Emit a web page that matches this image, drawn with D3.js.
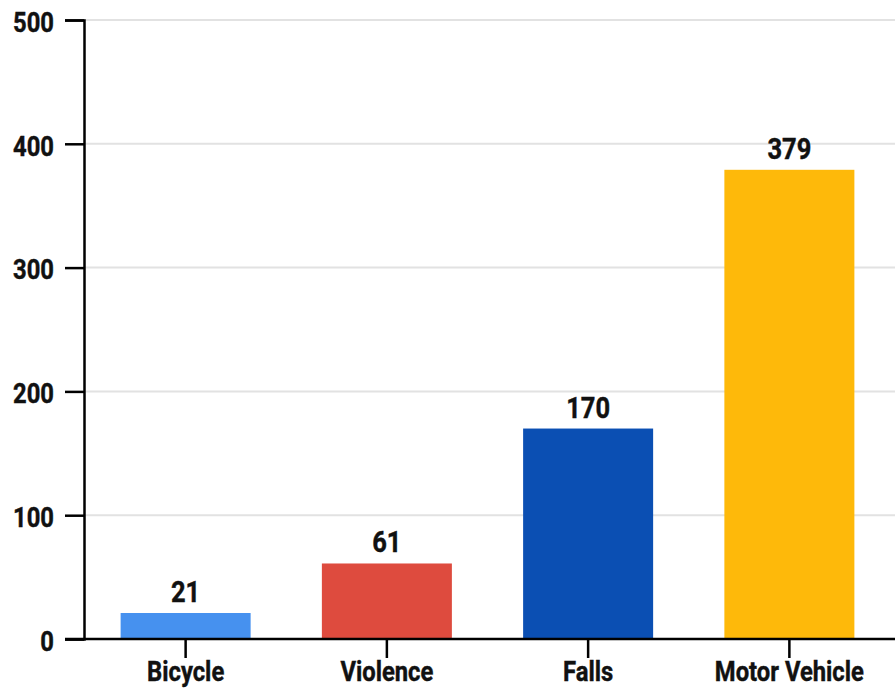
<!DOCTYPE html>
<html>
<head>
<meta charset="utf-8">
<script src="https://cdn.jsdelivr.net/npm/d3@7"></script>
<style>
  html, body { margin: 0; padding: 0; background: #fff; }
  svg { display: block; }
  text { font-family: "Roboto", "DejaVu Sans", sans-serif; font-weight: 700; fill: #111; stroke: #111; stroke-width: 0.45px; }
</style>
</head>
<body>
<svg id="chart" width="895" height="688"></svg>
<script>
// Injury causes and counts
const categories = ["Bicycle", "Violence", "Falls", "Motor Vehicle"];
const counts = [21, 61, 170, 379];
const barColors = ["#4691ef", "#de4b3e", "#0b4fb3", "#feb90a"];
const yTicks = [0, 100, 200, 300, 400, 500];

const svg = d3.select("#chart");
const W = 895, H = 688;
const m = { left: 84, right: 890, top: 20, bottom: 639 };
const FS = 28;       // axis label font size
const VFS = 30;      // value label font size
const SQ = 0.85;     // horizontal squeeze for a condensed look

const x = d3.scaleBand()
  .domain(categories)
  .range([m.left + 1, m.right])
  .paddingInner(0.354)
  .paddingOuter(0.177);

const y = d3.scaleLinear().domain([0, 500]).range([m.bottom, m.top]);

// horizontal gridlines
svg.append("g")
  .selectAll("line")
  .data(yTicks.filter(t => t > 0))
  .join("line")
  .attr("x1", m.left).attr("x2", W)
  .attr("y1", d => y(d)).attr("y2", d => y(d))
  .attr("stroke", "#e2e2e2").attr("stroke-width", 2);

// bars
svg.append("g")
  .selectAll("rect")
  .data(categories)
  .join("rect")
  .attr("x", d => x(d))
  .attr("width", x.bandwidth())
  .attr("y", (d, i) => y(counts[i]))
  .attr("height", (d, i) => y(0) - y(counts[i]))
  .attr("fill", (d, i) => barColors[i]);

// value labels
const cx = d => x(d) + x.bandwidth() / 2;
svg.append("g")
  .selectAll("text")
  .data(categories)
  .join("text")
  .attr("y", (d, i) => y(counts[i]) - 11)
  .attr("text-anchor", "middle")
  .attr("font-size", VFS)
  .attr("transform", d => `translate(${cx(d)},0) scale(${SQ},1)`)
  .text((d, i) => counts[i]);

// y axis
const yAxis = svg.append("g")
  .attr("transform", `translate(${m.left},0)`)
  .call(d3.axisLeft(y).tickValues(yTicks).tickSize(19).tickPadding(11));
yAxis.select(".domain").attr("stroke", "#000").attr("stroke-width", 2.5);
yAxis.selectAll(".tick line").attr("stroke", "#000").attr("stroke-width", 2.5);
yAxis.selectAll(".tick text")
  .attr("font-family", "Roboto, sans-serif")
  .attr("font-weight", 700)
  .attr("font-size", FS)
  .attr("fill", "#111")
  .attr("x", 0)
  .attr("dy", "0.4em")
  .attr("transform", `translate(-30,0) scale(${SQ},1)`);

// x axis
const xAxis = svg.append("g")
  .attr("transform", `translate(0,${m.bottom})`)
  .call(d3.axisBottom(x).tickSize(19).tickPadding(3).tickSizeOuter(0));
xAxis.select(".domain").attr("d", `M${m.left - 19},0H${W}`).attr("stroke", "#000").attr("stroke-width", 2.5);
xAxis.selectAll(".tick line").attr("stroke", "#000").attr("stroke-width", 2.5);
xAxis.selectAll(".tick text")
  .attr("font-family", "Roboto, sans-serif")
  .attr("font-weight", 700)
  .attr("font-size", FS)
  .attr("fill", "#111")
  .attr("transform", `scale(${SQ},1)`);
</script>
</body>
</html>
